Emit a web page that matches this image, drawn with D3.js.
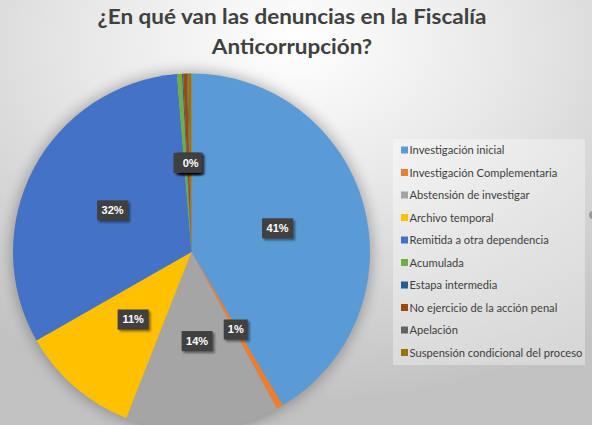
<!DOCTYPE html>
<meta charset="utf-8">
<style>
body { margin: 0; }
.title { font-family: Lato, "Open Sans", sans-serif; font-weight: bold; font-size: 21px; fill: #404040; }
.legend-label { font-family: Lato, "Open Sans", sans-serif; font-size: 11.5px; fill: #404040; }
.pct { font-family: "Liberation Sans", Arial, sans-serif; font-weight: bold; font-size: 11px; fill: #fff; }
</style>
<svg width="592" height="425"></svg>
<script src="https://d3js.org/d3.v7.min.js"></script>
<script>

var categories = ["Investigación inicial", "Investigación Complementaria", "Abstensión de investigar",
  "Archivo temporal", "Remitida a otra dependencia", "Acumulada", "Estapa intermedia",
  "No ejercicio de la acción penal", "Apelación", "Suspensión condicional del proceso"];
var values = [41.45, 0.6, 13.9, 10.8, 31.95, 0.45, 0.1, 0.35, 0.1, 0.3];
var colors = ["#5B9BD5", "#ED7D31", "#A5A5A5", "#FFC000", "#4472C4", "#70AD47",
  "#255E91", "#9E480E", "#636363", "#997300"];
var titleLines = ["¿En qué van las denuncias en la Fiscalía", "Anticorrupción?"];

var svg = d3.select("svg"),
    width = +svg.attr("width"),
    height = +svg.attr("height");

var defs = svg.append("defs");
var bg = defs.append("radialGradient").attr("id", "bg")
    .attr("cx", "50%").attr("cy", "10%").attr("r", "85%");
bg.append("stop").attr("offset", "0%").attr("stop-color", "#ffffff");
bg.append("stop").attr("offset", "45%").attr("stop-color", "#e6e6e6");
bg.append("stop").attr("offset", "100%").attr("stop-color", "#c2c2c2");

defs.append("filter").attr("id", "glow").attr("x", "-20%").attr("y", "-20%").attr("width", "140%").attr("height", "140%")
  .append("feGaussianBlur").attr("stdDeviation", 7);
defs.append("filter").attr("id", "boxshadow").attr("x", "-30%").attr("y", "-30%").attr("width", "160%").attr("height", "160%")
  .append("feGaussianBlur").attr("stdDeviation", 1.2);

svg.append("rect").attr("width", width).attr("height", height).attr("fill", "url(#bg)");

// title, squeezed to the narrow width of the original font
var titleWidth = 389;
svg.selectAll(".title").data(titleLines).enter().append("text")
    .attr("class", "title")
    .attr("text-anchor", "middle")
    .text(function(d) { return d; });
var sx = titleWidth / svg.select(".title").node().getComputedTextLength();
svg.selectAll(".title").attr("transform", function(d, i) {
  return "translate(292," + (24 + i * 30) + ") scale(" + sx + ",1)";
});

// pie
var cx = 191.5, cy = 252, radius = 178.5;
var g = svg.append("g").attr("transform", "translate(" + cx + "," + cy + ")");

g.append("circle").attr("r", radius + 2).attr("fill", "#000").attr("opacity", 0.28)
    .attr("filter", "url(#glow)");

var pie = d3.pie().sort(null).value(function(d) { return d; });
var arcs = pie(values);
var arc = d3.arc().innerRadius(0).outerRadius(radius);
var total = d3.sum(values);

g.selectAll(".slice").data(arcs).enter().append("path")
    .attr("class", "slice")
    .attr("d", arc)
    .attr("fill", function(d, i) { return colors[i]; });

// data labels; later boxes cover earlier ones, so a text hidden under
// the next box is left out
var boxW = 24, boxH = 20;
var pos = arcs.map(function(d) { return arc.centroid(d); });

var labels = g.selectAll(".lbl").data(arcs).enter().append("g")
    .attr("class", "lbl")
    .attr("transform", function(d, i) { return "translate(" + pos[i] + ")"; });

labels.each(function(d, i) {
  var sel = d3.select(this);
  var txt = Math.round(d.value / total * 100) + "%";
  var w = txt.length > 2 ? 31 : boxW;
  sel.append("rect").attr("x", -w / 2 + 2).attr("y", -boxH / 2 + 2)
      .attr("width", w).attr("height", boxH).attr("fill", "#000").attr("opacity", 0.45)
      .attr("filter", "url(#boxshadow)");
  sel.append("rect").attr("x", -w / 2).attr("y", -boxH / 2)
      .attr("width", w).attr("height", boxH).attr("fill", "#404040");
  var covered = pos.some(function(p, j) {
    return j > i && Math.abs(p[0] - pos[i][0]) < boxW && Math.abs(p[1] - pos[i][1]) < boxH;
  });
  if (!covered) {
    sel.append("text").attr("class", "pct")
        .attr("text-anchor", "middle").attr("dy", "0.36em")
        .text(txt);
  }
});

// legend
svg.append("rect").attr("x", 393).attr("y", 139).attr("width", 192).attr("height", 226)
    .attr("fill", "#ffffff").attr("opacity", 0.35);

var y = d3.scalePoint().domain(categories).range([150, 352.5]);

var leg = svg.selectAll(".leg").data(categories).enter().append("g")
    .attr("class", "leg")
    .attr("transform", function(d) { return "translate(401," + y(d) + ")"; });

leg.append("rect").attr("x", 0).attr("y", -3.5).attr("width", 7).attr("height", 7)
    .attr("fill", function(d, i) { return colors[i]; });

leg.append("text").attr("class", "legend-label")
    .attr("x", 0).attr("dy", "0.35em")
    .text(function(d) { return d; });

var longest = 0;
leg.selectAll("text").each(function() { longest = Math.max(longest, this.getComputedTextLength()); });
var lsx = 173 / longest;
leg.selectAll("text").attr("transform", "translate(8.5,0) scale(" + lsx + ",1)");

// small handle cut off at the right edge
svg.append("circle").attr("cx", 593).attr("cy", 215).attr("r", 4).attr("fill", "#9a9a9a");

</script>
